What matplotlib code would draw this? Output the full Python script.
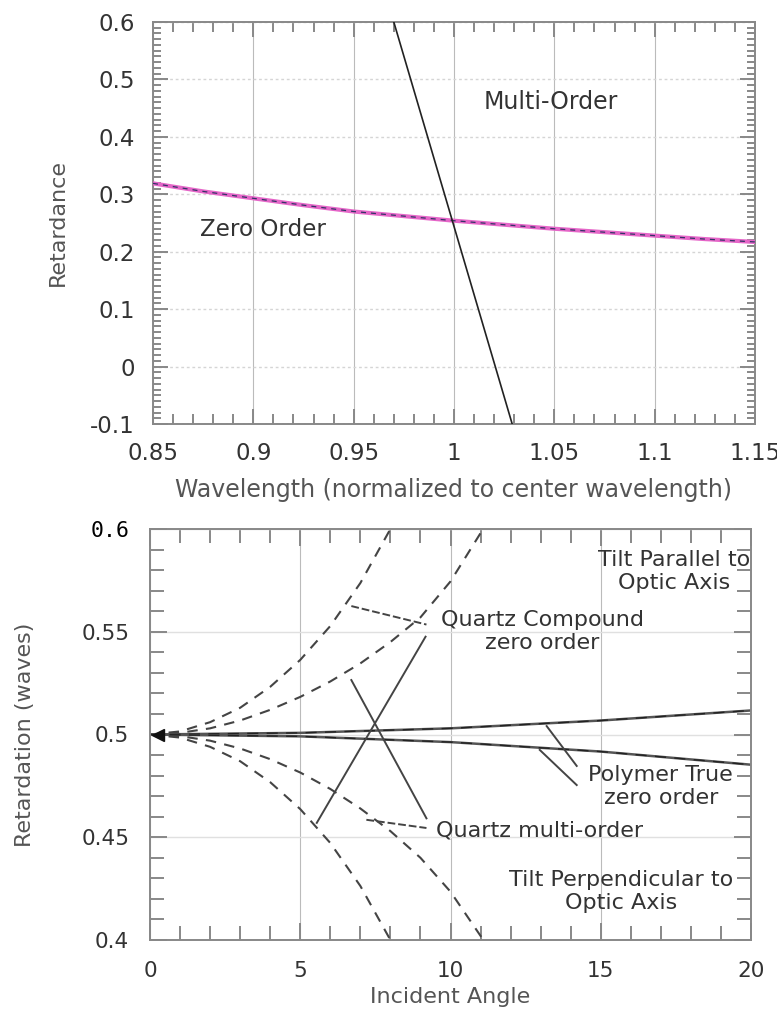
import numpy as np
import matplotlib.pyplot as plt
from matplotlib.ticker import MultipleLocator

# wavelength dependence of retardance
wl = [0.85, 0.875, 0.9, 0.925, 0.95, 0.975, 1.0, 1.025, 1.05, 1.075, 1.1, 1.125, 1.15]
zero_order = [0.319, 0.305, 0.293, 0.281, 0.270, 0.262, 0.254, 0.247, 0.240, 0.234, 0.228, 0.222, 0.217]
multi_wl = [0.970, 1.029]
multi_order = [0.6, -0.1]

# incident angle dependence
ang_qo = [0, 1, 2, 3, 4, 5, 6, 7, 8]
qz_par_outer = [0.5, 0.5015, 0.506, 0.513, 0.5232, 0.5363, 0.5528, 0.5737, 0.6]
qz_perp_outer = [0.5, 0.4985, 0.494, 0.487, 0.4768, 0.4637, 0.4472, 0.4263, 0.4]
ang_qi = [0, 1, 2, 3, 4, 5, 6, 7, 8, 9, 10, 11, 11.1]
qz_par_inner = [0.5, 0.5008, 0.503, 0.5068, 0.512, 0.5183, 0.5258, 0.5346, 0.545, 0.557, 0.5745, 0.598, 0.6]
qz_perp_inner = [0.5, 0.4992, 0.497, 0.4932, 0.488, 0.4815, 0.4735, 0.464, 0.453, 0.440, 0.4235, 0.402, 0.4]
ang_poly = [0, 5, 10, 15, 20]
poly_par = [0.5, 0.5008, 0.503, 0.5068, 0.5117]
poly_perp = [0.5, 0.4991, 0.4963, 0.4917, 0.4853]

plt.rcParams['font.family'] = ['DejaVu Sans']

fig = plt.figure(figsize=(7.77, 10.11), dpi=100)
ax1 = fig.add_axes([153/777, 1-424/1011, 602/777, 402/1011])
ax2 = fig.add_axes([150/777, 1-940/1011, 601/777, 411/1011])

def style(ax, tickcol='#888888'):
    for s in ax.spines.values():
        s.set_color(tickcol)
        s.set_linewidth(1.4)
    ax.tick_params(which='both', direction='in', top=True, right=True, color=tickcol, width=1.4)
    ax.tick_params(which='major', length=11)
    ax.tick_params(which='minor', length=7)

# ---- top panel ----
style(ax1)
ax1.set_xlim(0.85, 1.15)
ax1.set_ylim(-0.1, 0.6)
ax1.xaxis.set_minor_locator(MultipleLocator(0.01))
ax1.yaxis.set_minor_locator(MultipleLocator(0.01))
ax1.set_xticks([0.85, 0.9, 0.95, 1.0, 1.05, 1.1, 1.15])
ax1.set_xticklabels(['0.85', '0.9', '0.95', '1', '1.05', '1.1', '1.15'])
ax1.set_yticks([-0.1, 0, 0.1, 0.2, 0.3, 0.4, 0.5, 0.6])
ax1.set_yticklabels(['-0.1', '0', '0.1', '0.2', '0.3', '0.4', '0.5', '0.6'])
ax1.tick_params(axis='x', which='major', pad=13, labelsize=16.5, labelcolor='#333333')
ax1.tick_params(axis='y', which='major', pad=13, labelsize=16.5, labelcolor='#333333')
ax1.tick_params(axis='y', which='minor', length=6)
ax1.grid(axis='x', which='major', color='#bbbbbb', lw=0.8)
ax1.grid(axis='y', which='major', color='#d5d5d5', lw=1.0, ls=(0, (2, 2)))

ax1.plot(wl, zero_order, color='#e566c8', lw=3, zorder=3)
ax1.plot(wl, zero_order, color='#333366', lw=0.9, ls=(0, (4, 4)), zorder=4)
ax1.plot(multi_wl, multi_order, color='#222222', lw=1.2, zorder=4)
ax1.text(1.048, 0.461, 'Multi-Order', ha='center', va='center', fontsize=17, color='#333333')
ax1.text(0.905, 0.238, 'Zero Order', ha='center', va='center', fontsize=16.6, color='#333333')

ax1.set_xlabel('Wavelength (normalized to center wavelength)', fontsize=17, color='#555555', va='center')
ax1.xaxis.set_label_coords(0.5, (424-490)/402)
ax1.set_ylabel('Retardance', fontsize=16, color='#555555', va='center')
ax1.yaxis.set_label_coords((58-153)/602, 0.5)

# ---- bottom panel ----
style(ax2)
ax2.set_xlim(0, 20)
ax2.set_ylim(0.4, 0.6)
ax2.xaxis.set_major_locator(MultipleLocator(5))
ax2.xaxis.set_minor_locator(MultipleLocator(1))
ax2.yaxis.set_minor_locator(MultipleLocator(0.01))
ax2.set_yticks([0.4, 0.45, 0.5, 0.55, 0.6])
ax2.set_yticklabels(['0.4', '0.45', '0.5', '0.55', '0.6'])
ax2.tick_params(axis='x', which='major', pad=15, labelsize=15.5, labelcolor='#333333')
ax2.tick_params(axis='y', which='major', pad=15, labelsize=15.5, labelcolor='#333333')
ax2.tick_params(which='minor', length=10)
ax2.tick_params(which='major', length=12)
ax2.grid(axis='x', which='major', color='#bbbbbb', lw=0.8)
ax2.grid(axis='y', which='major', color='#e0e0e0', lw=1.0)
lab06 = ax2.get_yticklabels()[-1]
lab06.set_fontfamily('DejaVu Sans Mono')
lab06.set_color('black')

dash = (0, (5, 4))
ax2.plot(ang_qo, qz_par_outer, color='#444444', lw=1.5, ls=dash)
ax2.plot(ang_qi, qz_par_inner, color='#444444', lw=1.5, ls=dash)
ax2.plot(ang_qo, qz_perp_outer, color='#444444', lw=1.5, ls=dash)
ax2.plot(ang_qi, qz_perp_inner, color='#444444', lw=1.5, ls=dash)
ax2.plot(ang_poly, poly_par, color='#555555', lw=1.8)
ax2.plot(ang_poly, poly_par, color='#222222', lw=1.0, ls=(0, (8, 6)))
ax2.plot(ang_poly, poly_perp, color='#555555', lw=1.8)
ax2.plot(ang_poly, poly_perp, color='#222222', lw=1.0, ls=(0, (8, 6)))
ax2.plot([0.25], [0.5], marker='<', color='#111111', ms=9, clip_on=False)

# leader lines to the annotations
lead = dict(color='#444444', lw=1.4)
ax2.plot([6.7, 9.2], [0.5625, 0.5535], ls=(0, (4, 1.5)), **lead)
ax2.plot([7.2, 9.2], [0.4585, 0.4545], ls=(0, (4, 1.5)), **lead)
ax2.plot([5.55, 9.17], [0.457, 0.5476], **lead)
ax2.plot([6.7, 9.2], [0.5265, 0.4592], **lead)
ax2.plot([13.2, 14.2], [0.5041, 0.4847], **lead)
ax2.plot([12.97, 14.2], [0.4925, 0.4754], **lead)

tk = dict(ha='center', va='center', fontsize=16, color='#333333', linespacing=1.2)
ax2.text(17.45, 0.5795, 'Tilt Parallel to\nOptic Axis', **tk)
ax2.text(13.05, 0.550, 'Quartz Compound\nzero order', **tk)
ax2.text(17.0, 0.4747, 'Polymer True\nzero order', **tk)
ax2.text(12.96, 0.4535, 'Quartz multi-order', **tk)
ax2.text(15.67, 0.4235, 'Tilt Perpendicular to\nOptic Axis', **tk)

ax2.set_xlabel('Incident Angle', fontsize=16, color='#555555', va='center')
ax2.xaxis.set_label_coords(0.5, (940-997)/411)
ax2.set_ylabel('Retardation (waves)', fontsize=16, color='#555555', va='center')
ax2.yaxis.set_label_coords((25-150)/601, 0.5)

fig.savefig('out.png', dpi=100)
